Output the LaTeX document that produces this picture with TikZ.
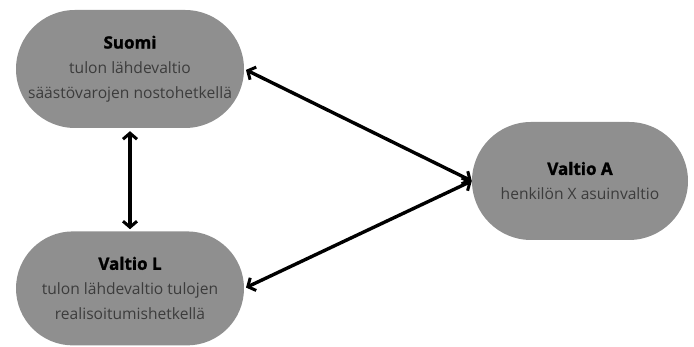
\documentclass[tikz,border=0pt]{standalone}
\usepackage{fontspec}
\setmainfont{Open Sans}[BoldFeatures={FakeBold=1.5}]
\usetikzlibrary{positioning,arrows.meta,shapes.misc}

\definecolor{boxgray}{HTML}{8F8F8F}
\definecolor{textgray}{HTML}{3C3C3C}

\begin{document}
\begin{tikzpicture}[x=1pt, y=1pt, every node/.style={font=\fontsize{15.6}{25}\selectfont}]
\tikzset{
  box/.style={rounded rectangle, fill=boxgray, align=center, inner sep=4pt, minimum width=236pt, minimum height=118pt, text=textgray},
  arrow/.style={{Straight Barb[length=6pt,width=14pt,line width=3pt]}-{Straight Barb[length=6pt,width=14pt,line width=3pt]}, line width=3.4pt}
}
\useasboundingbox (0,0) rectangle (694,347);

% Nodes
\node[box] (suomi) at (130,278) {\textcolor{black}{\fontsize{17}{25}\selectfont\bfseries Suomi}\\ tulon lähdevaltio\\ säästövarojen nostohetkellä};
\node[box, minimum height=114pt, below=103pt of suomi] (valtioL) {\textcolor{black}{\fontsize{17}{25}\selectfont\bfseries Valtio L}\\ tulon lähdevaltio tulojen\\ realisoitumishetkellä};
\node[box, minimum width=224pt] (valtioA) at (580,166) {\textcolor{black}{\fontsize{17}{23}\selectfont\bfseries Valtio A}\\ henkilön X asuinvaltio};

% Arrows
\draw[arrow, shorten <=3pt, shorten >=2pt] (suomi.south) -- (valtioL.north);
\draw[arrow, shorten <=2pt] (suomi.east) -- (valtioA.west);
\draw[arrow, shorten <=2pt] (valtioL.east) -- (valtioA.west);
\end{tikzpicture}
\end{document}
